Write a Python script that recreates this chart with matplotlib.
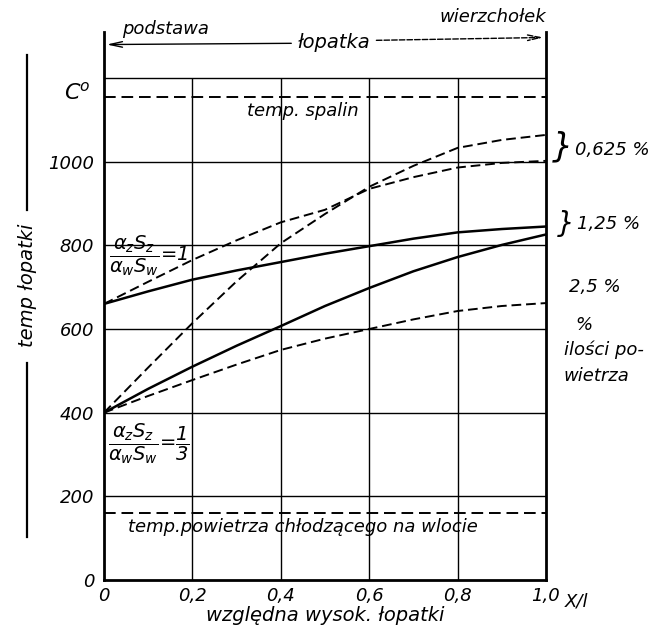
import matplotlib
matplotlib.use('Agg')
import matplotlib.pyplot as plt
from matplotlib.lines import Line2D

# wzgledna wysokosc lopatki x/l
x = [0.0, 0.1, 0.2, 0.3, 0.4, 0.5, 0.6, 0.7, 0.8, 0.9, 1.0]

# ratio 1/3, dashed, steep (0,625 %)
t_a = [400, 508, 614, 714, 805, 875, 940, 990, 1033, 1052, 1064]
# ratio 1, dashed (0,625 %)
t_b = [660, 713, 765, 812, 855, 885, 935, 963, 986, 997, 1002]
# ratio 1, solid (1,25 %)
t_c = [660, 690, 718, 740, 760, 780, 798, 816, 831, 839, 845]
# ratio 1/3, solid (1,25 %)
t_d = [400, 457, 510, 560, 607, 655, 698, 738, 772, 801, 826]
# ratio 1/3, dashed (2,5 %)
t_e = [400, 440, 478, 515, 550, 577, 600, 623, 643, 655, 662]

t_spalin = 1155
t_air = 160

grid_y = [200, 400, 600, 800, 1000, 1200]
grid_x = [0.2, 0.4, 0.6, 0.8]
yticks = [0, 200, 400, 600, 800, 1000]
ytick_labels = ['0', '200', '400', '600', '800', '1000']
xticks = [0, 0.2, 0.4, 0.6, 0.8, 1.0]
xtick_labels = ['0', '0,2', '0,4', '0,6', '0,8', '1,0']

plt.rcParams['font.family'] = ['DejaVu Sans']
plt.rcParams['font.style'] = 'italic'
plt.rcParams['mathtext.fontset'] = 'dejavusans'
plt.rcParams['mathtext.default'] = 'it'

fig = plt.figure(figsize=(6.62, 6.39), dpi=100)
ax = fig.add_axes([104 / 662, 1 - 580 / 639, 442 / 662, 548 / 639])
ax.set_xlim(0, 1)
ax.set_ylim(0, 1310)

# grid
ax.hlines(grid_y, 0, 1, colors='black', lw=1.0)
ax.vlines(grid_x, 0, 1200, colors='black', lw=1.0)

# curves
ax.plot(x, t_a, color='black', lw=1.4, dashes=(5, 2.5))
ax.plot(x, t_b, color='black', lw=1.4, dashes=(5, 2.5))
ax.plot(x, t_c, color='black', lw=1.8)
ax.plot(x, t_d, color='black', lw=1.8)
ax.plot(x, t_e, color='black', lw=1.4, dashes=(5, 2.5))

ax.plot([0, 1], [t_spalin, t_spalin], color='black', lw=1.4, dashes=(6, 3))
ax.plot([0, 1], [t_air, t_air], color='black', lw=1.4, dashes=(6, 3))

# axes
for s in ['left', 'right', 'bottom']:
    ax.spines[s].set_linewidth(2)
ax.spines['top'].set_visible(False)
ax.set_yticks(yticks)
ax.set_yticklabels(ytick_labels, fontsize=13)
ax.set_xticks(xticks)
ax.set_xticklabels(xtick_labels, fontsize=13)
ax.tick_params(length=0)
ax.tick_params(axis='y', pad=7)
ax.tick_params(axis='x', pad=5)

ax.text(1.07, -30, 'X/l', fontsize=13, ha='center', va='top')
ax.text(-0.03, 1165, 'C$^o$', fontsize=16, ha='right', va='center')
ax.set_xlabel('względna wysok. łopatki', fontsize=14, labelpad=1)

# top arrow
ax.annotate('', xy=(0.0, 1280), xytext=(0.43, 1283),
            arrowprops=dict(arrowstyle='->,head_length=0.9,head_width=0.2', lw=1.0, color='black'),
            annotation_clip=False)
ax.annotate('', xy=(1.0, 1297), xytext=(0.61, 1290),
            arrowprops=dict(arrowstyle='->,head_length=0.9,head_width=0.2', lw=1.0,
                            color='black', linestyle=(0, (4, 1.5))),
            annotation_clip=False)
ax.text(0.52, 1286, 'łopatka', fontsize=14, ha='center', va='center', clip_on=False)
ax.text(0.04, 1318, 'podstawa', fontsize=13, ha='left', va='center', clip_on=False)
ax.text(0.88, 1345, 'wierzchołek', fontsize=13, ha='center', va='center', clip_on=False)

# y label with line
fig.add_artist(Line2D([0.041, 0.041], [0.914, 0.672], color='black', lw=1.6))
fig.add_artist(Line2D([0.041, 0.041], [0.432, 0.160], color='black', lw=1.6))
fig.text(0.041, 0.553, 'temp łopatki', rotation=90, fontsize=14, ha='center', va='center')

# annotations inside
ax.text(0.45, 1122, 'temp. spalin', fontsize=13, ha='center', va='center')
ax.text(0.055, 126, 'temp.powietrza chłodzącego na wlocie', fontsize=13, ha='left', va='center')
ax.text(0.012, 775, r'$\dfrac{\alpha_z S_z}{\alpha_w S_w}$=1', fontsize=14, ha='left', va='center')
ax.text(0.010, 325, r'$\dfrac{\alpha_z S_z}{\alpha_w S_w}$=$\dfrac{1}{3}$', fontsize=14,
        ha='left', va='center')

# right labels
ax.text(1.012, 1035, '}', fontsize=24, ha='left', va='center', clip_on=False, fontweight='light')
ax.text(1.065, 1028, '0,625 %', fontsize=13, ha='left', va='center', clip_on=False)
ax.text(1.025, 850, '}', fontsize=20, ha='left', va='center', clip_on=False, fontweight='light')
ax.text(1.07, 852, '1,25 %', fontsize=13, ha='left', va='center', clip_on=False)
ax.text(1.11, 700, '2,5 %', fontsize=13, ha='center', va='center', clip_on=False)
ax.text(1.085, 610, '%', fontsize=13, ha='center', va='center', clip_on=False)
ax.text(1.04, 550, 'ilości po-', fontsize=13, ha='left', va='center', clip_on=False)
ax.text(1.04, 487, 'wietrza', fontsize=13, ha='left', va='center', clip_on=False)

fig.savefig('out.png', dpi=100)
